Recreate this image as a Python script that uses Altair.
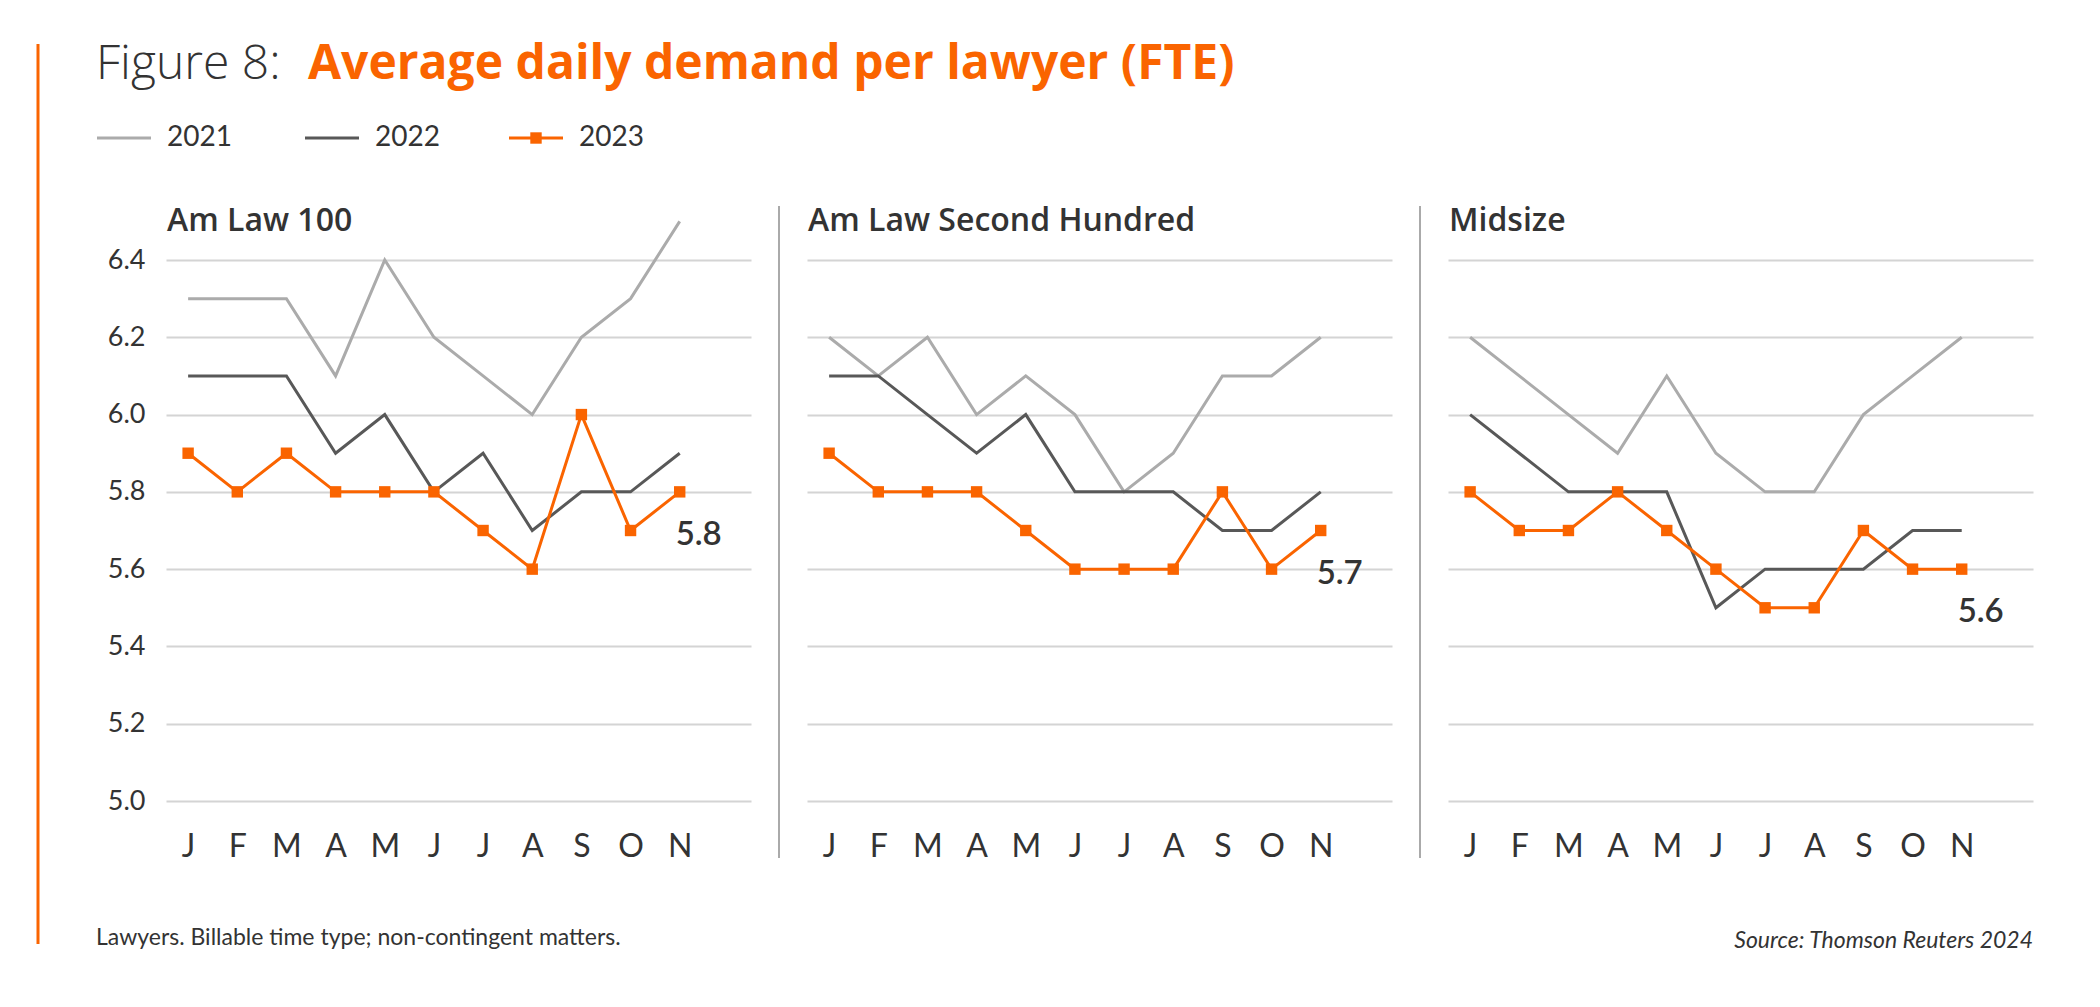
import json
import altair as alt
import pandas as pd

# ---------------- data ----------------
months = ["J", "F", "M", "A", "M", "J", "J", "A", "S", "O", "N"]
years = ["2021", "2022", "2023"]
segments = ["Am Law 100", "Am Law Second Hundred", "Midsize"]

amlaw100_2021 = [6.3, 6.3, 6.3, 6.1, 6.4, 6.2, 6.1, 6.0, 6.2, 6.3, 6.5]
amlaw100_2022 = [6.1, 6.1, 6.1, 5.9, 6.0, 5.8, 5.9, 5.7, 5.8, 5.8, 5.9]
amlaw100_2023 = [5.9, 5.8, 5.9, 5.8, 5.8, 5.8, 5.7, 5.6, 6.0, 5.7, 5.8]

second_2021 = [6.2, 6.1, 6.2, 6.0, 6.1, 6.0, 5.8, 5.9, 6.1, 6.1, 6.2]
second_2022 = [6.1, 6.1, 6.0, 5.9, 6.0, 5.8, 5.8, 5.8, 5.7, 5.7, 5.8]
second_2023 = [5.9, 5.8, 5.8, 5.8, 5.7, 5.6, 5.6, 5.6, 5.8, 5.6, 5.7]

midsize_2021 = [6.2, 6.1, 6.0, 5.9, 6.1, 5.9, 5.8, 5.8, 6.0, 6.1, 6.2]
midsize_2022 = [6.0, 5.9, 5.8, 5.8, 5.8, 5.5, 5.6, 5.6, 5.6, 5.7, 5.7]
midsize_2023 = [5.8, 5.7, 5.7, 5.8, 5.7, 5.6, 5.5, 5.5, 5.7, 5.6, 5.6]

y_ticks = [5.0, 5.2, 5.4, 5.6, 5.8, 6.0, 6.2, 6.4]

title_prefix = "Figure 8:"
title_main = "Average daily demand per lawyer (FTE)"
footnote = "Lawyers. Billable time type; non-contingent matters."
source = "Source: Thomson Reuters 2024"

series = {
    "Am Law 100": [amlaw100_2021, amlaw100_2022, amlaw100_2023],
    "Am Law Second Hundred": [second_2021, second_2022, second_2023],
    "Midsize": [midsize_2021, midsize_2022, midsize_2023],
}

rows = []
for seg in segments:
    for yr, vals in zip(years, series[seg]):
        for i, v in enumerate(vals):
            rows.append({"seg": seg, "year": yr, "m": i + 1, "v": v})
df = pd.DataFrame(rows)

# ---------------- style ----------------
FONT = "Lato"
TFONT = "Open Sans"
ORANGE = "#FA6400"
DARK = "#333333"
COLORS = ["#ABABAB", "#585858", ORANGE]
W, H = 585, 541

label_expr = json.dumps(months) + "[datum.value - 1]"


def one():
    return alt.Chart(pd.DataFrame({"a": [0]}))


def panel(seg, idx):
    d = df[df.seg == seg]
    base = alt.Chart(d)
    x = alt.X(
        "m:Q",
        scale=alt.Scale(domain=[0.55, 12.45], nice=False, zero=False),
        axis=alt.Axis(
            values=list(range(1, 12)), labelExpr=label_expr, title=None,
            grid=False, domain=False, ticks=False, labelFontSize=32,
            labelPadding=30, labelColor=DARK, labelFont=FONT,
            labelFontWeight="normal",
        ),
    )
    y = alt.Y(
        "v:Q",
        scale=alt.Scale(domain=[5.0, 6.4], nice=False, zero=False),
        axis=alt.Axis(
            values=y_ticks, format=".1f", title=None, domain=False, ticks=False,
            grid=True, gridColor="#D4D4D4", gridWidth=2,
            labels=(idx == 0), labelFontSize=27, labelPadding=21,
            labelColor=DARK, labelFont=FONT,
        ),
    )
    color = alt.Color(
        "year:N", scale=alt.Scale(domain=years, range=COLORS), legend=None
    )
    lines = base.mark_line(strokeWidth=3).encode(x=x, y=y, color=color)
    pts = base.transform_filter(alt.datum.year == "2023").mark_square(
        size=130, opacity=1, color=ORANGE
    ).encode(x=x, y=y)
    last = base.transform_filter(
        (alt.datum.year == "2023") & (alt.datum.m == 11)
    ).mark_text(
        dx=19, dy=53, baseline="alphabetic", align="center", fontSize=33,
        fontWeight=600, color=DARK, font=FONT
    ).encode(x=x, y=y, text=alt.Text("v:Q", format=".1f"))

    ptitle = one().mark_text(
        text=seg, align="left", baseline="alphabetic", fontSize=32,
        fontWeight=600, color=DARK, font=TFONT
    ).encode(x=alt.value(1), y=alt.value(-29))

    layers = [lines, pts, last, ptitle]

    if idx == 0:
        bar = one().mark_rule(color=ORANGE, strokeWidth=3).encode(
            x=alt.value(-128), y=alt.value(-216), y2=alt.value(684)
        )
        t1 = one().mark_text(
            text=title_prefix, align="left", baseline="alphabetic",
            fontSize=48, fontWeight=300, color=DARK, font=TFONT
        ).encode(x=alt.value(-70), y=alt.value(-181))
        t2 = one().mark_text(
            text=title_main, align="left", baseline="alphabetic",
            fontSize=48, fontWeight="bold", color=ORANGE, font=TFONT
        ).encode(x=alt.value(142), y=alt.value(-181))
        leg = []
        for yr, col, x0 in zip(years, COLORS, [-69, 139, 343]):
            leg.append(one().mark_rule(color=col, strokeWidth=3).encode(
                x=alt.value(x0), x2=alt.value(x0 + 54), y=alt.value(-122)))
            leg.append(one().mark_text(
                text=yr, align="left", baseline="middle", fontSize=28,
                fontWeight="normal", color=DARK, font=FONT
            ).encode(x=alt.value(x0 + 70), y=alt.value(-122)))
        leg.append(one().mark_square(size=130, opacity=1, color=ORANGE).encode(
            x=alt.value(343 + 27), y=alt.value(-122)))
        foot = one().mark_text(
            text=footnote, align="left", baseline="alphabetic", fontSize=23,
            color=DARK, font=FONT
        ).encode(x=alt.value(-70), y=alt.value(685))
        layers += [bar, t1, t2, foot] + leg
    else:
        sep = one().mark_rule(color="#AAAAAA", strokeWidth=2).encode(
            x=alt.value(-28), y=alt.value(-54), y2=alt.value(598)
        )
        layers.append(sep)
    if idx == 2:
        src = one().mark_text(
            text=source, align="right", baseline="alphabetic", fontSize=23,
            fontStyle="italic", color=DARK, font=FONT
        ).encode(x=alt.value(W), y=alt.value(688))
        layers.append(src)

    return alt.layer(*layers).properties(width=W, height=H)


chart = alt.hconcat(
    *[panel(s, i) for i, s in enumerate(segments)], spacing=56, bounds="flush"
).properties(
    padding={"left": 28, "top": 33, "right": 5, "bottom": 5},
    background="white",
).configure_view(strokeWidth=0, stroke="transparent")

chart.save("out.html", embed_options={"renderer": "svg", "actions": False})
